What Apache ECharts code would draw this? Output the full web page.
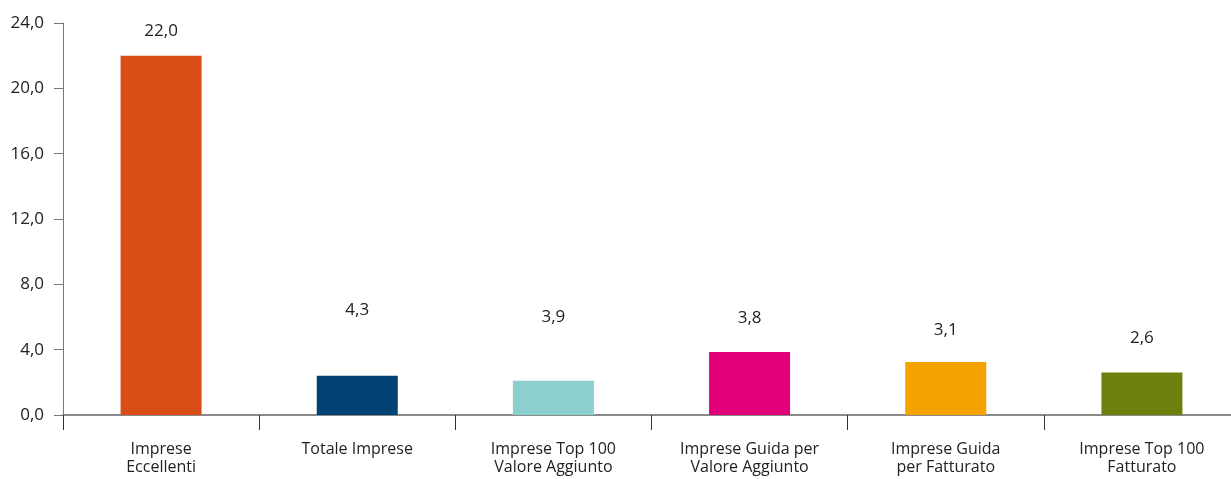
<!DOCTYPE html>
<html>
<head>
<meta charset="utf-8">
<script src="https://cdn.jsdelivr.net/npm/echarts@6/dist/echarts.min.js"></script>
<style>html,body{margin:0;padding:0;background:#fff;overflow:hidden;width:1231px;height:479px}#c{width:1240px;height:479px}</style>
</head>
<body>
<div id="c"></div>
<script>
const categories = ['Imprese\nEccellenti', 'Totale Imprese', 'Imprese Top 100\nValore Aggiunto', 'Imprese Guida per\nValore Aggiunto', 'Imprese Guida\nper Fatturato', 'Imprese Top 100\nFatturato'];
const barValues = [22.0, 2.4, 2.1, 3.85, 3.25, 2.6];
const labelValues = [22.0, 4.3, 3.9, 3.8, 3.1, 2.6];
const barColors = ['#D84E16', '#004372', '#8BCFCF', '#E2007A', '#F5A300', '#6C800E'];
const yTicks = [0, 4, 8, 12, 16, 20, 24];

const FONT = '"Open Sans", "Liberation Sans", sans-serif';
const fmt = v => v.toFixed(1).replace('.', ',');

const chart = echarts.init(document.getElementById('c'), null, {renderer: 'canvas'});
chart.setOption({
  animation: false,
  grid: {left: 63, right: 0, top: 23, bottom: 64, containLabel: false},
  xAxis: {
    type: 'category',
    data: categories,
    axisLine: {show: true, lineStyle: {color: '#8a8a8a', width: 2}},
    axisTick: {show: true, alignWithLabel: false, length: 15, lineStyle: {color: '#333', width: 1}},
    axisLabel: {interval: 0, margin: 25, fontFamily: FONT, fontSize: 16, color: '#222', lineHeight: 18}
  },
  yAxis: {
    type: 'value',
    min: yTicks[0],
    max: yTicks[yTicks.length - 1],
    interval: 4,
    splitLine: {show: false},
    axisLine: {show: true, lineStyle: {color: '#777', width: 1}},
    axisTick: {show: true, length: 9, lineStyle: {color: '#777'}},
    axisLabel: {margin: 19, fontFamily: FONT, fontSize: 17, color: '#222', formatter: v => fmt(v)}
  },
  series: [
    {
      type: 'bar',
      barWidth: 81,
      data: barValues.map((v, i) => ({value: v, itemStyle: {color: barColors[i]}})),
      z: 2
    },
    {
      type: 'bar',
      barWidth: 81,
      barGap: '-100%',
      data: labelValues.map((v, i) => ({
        value: v,
        label: {distance: i === 0 ? 16 : 26}
      })),
      itemStyle: {color: 'rgba(0,0,0,0)'},
      label: {show: true, position: 'top', fontFamily: FONT, fontSize: 17, color: '#222', formatter: p => fmt(p.value)},
      z: 1,
      silent: true
    }
  ]
});
</script>
</body>
</html>
